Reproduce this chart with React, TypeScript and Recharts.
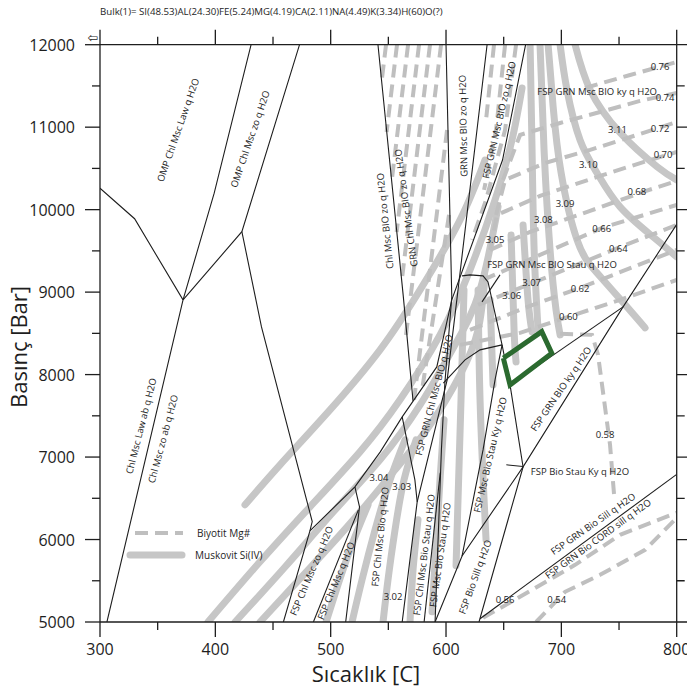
import React from "react";
import { ComposedChart, Line, Scatter, XAxis, YAxis, Label } from "recharts";

document.body.style.margin = "0";

const xTicks = [300, 350, 400, 450, 500, 550, 600, 650, 700, 750, 800];
const yTicks = [5000, 5500, 6000, 6500, 7000, 7500, 8000, 8500, 9000, 9500, 10000, 10500, 11000, 11500, 12000];

const bulk = "Bulk(1)= SI(48.53)AL(24.30)FE(5.24)MG(4.19)CA(2.11)NA(4.49)K(3.34)H(60)O(?)";

// phase boundaries, [T °C, P bar]
const L1 = [[300, 10260], [330, 9890], [372, 8905], [306, 5000]];
const L2 = [[372, 8905], [399, 10200], [431, 12000]];
const L3 = [[372, 8905], [423, 9733], [473, 12000]];
const L4 = [[423, 9733], [440, 8578], [484, 6218], [482, 6105], [459, 5000]];
const L5 = [[482, 6105], [521, 6639], [543, 7063], [562, 7487], [592, 8093], [605, 8906], [649, 10602], [669, 12000]];
const Ld = [[521, 6639], [525, 6396], [513, 5000]];
const Le = [[524, 6360], [485, 5000]];
const L6 = [[541, 12000], [563, 8942], [571.4, 7680]];
const Lf = [[562, 7487], [573, 6724], [575, 6458], [562, 5000]];
const L7 = [[600, 12000], [605, 8942], [599, 7899], [596, 7087], [590.5, 5000]];
const Lk = [[595, 6810], [581, 5000]];
const L8 = [[635.6, 12000], [610.4, 9027], [601, 7936], [575, 6458]];
const Lj = [[597.7, 7896], [616.5, 8178], [629.5, 8300], [648.6, 8360]];
const LM = [[613.9, 9197], [620.8, 9209], [632.1, 9197], [636.4, 9124], [648.6, 8360], [655.5, 7875], [666.8, 6881], [628.6, 5000]];
const LN = [[648.6, 8360], [642.5, 7936], [632.1, 7087], [613.9, 5800]];
const LO = [[590.5, 5000], [613.9, 5800], [666.8, 6881], [753.5, 8821], [800, 9821]];
const LQ = [[655.5, 7875], [753.5, 8821]];
const LR = [[629.5, 5040], [800, 6790]];
const ptr1 = [[646.8, 9209], [631.2, 8882]];
const ptr2 = [[652.3, 6906], [666.7, 6885]];

const boundaries = [L1, L2, L3, L4, L5, Ld, Le, L6, Lf, L7, Lk, L8, Lj, LM, LN, LO, LQ, LR, ptr1, ptr2];

// study area
const box = [[649.7, 8199], [683.0, 8521], [691.7, 8259], [655.5, 7875], [649.7, 8199]];

// Muskovit Si(IV) isopleths
const si0 = [[425.7, 6421], [456.1, 6906], [499.4, 7572], [542.8, 8300], [577.5, 9027], [612.2, 9876], [633.8, 10602]];
const si1 = [[393.6, 5000], [438.7, 5730], [482.1, 6397], [525.4, 7063], [560.1, 7694], [594.8, 8482], [620.8, 9270], [642.5, 10118], [657.2, 10845], [665.9, 11475]];
const si2 = [[417.1, 5000], [460.4, 5667], [503.8, 6358], [542.8, 6966], [577.5, 7632], [607.8, 8360], [629.5, 9027], [645.1, 10033]];
const si3 = [[438.7, 5000], [482.1, 5657], [521.1, 6263], [555.8, 6845], [586.1, 7390], [612.2, 7997], [627.8, 8542], [633.8, 9185]];
const si11 = [[711.9, 12000], [724.9, 11455], [750.9, 10933], [783.0, 10521], [800, 10360]];
const si10 = [[698.9, 12000], [704.9, 11451], [716.2, 10845], [730.9, 10445], [750.9, 10033], [779.5, 9670], [800, 9427]];
const si09 = [[688.5, 12000], [692.9, 11245], [699.8, 10445], [713.6, 9633], [730.9, 9233], [756.9, 8821], [772.6, 8566]];
const si08 = [[681.5, 12000], [685.0, 10724], [690.2, 9512], [695.4, 8784], [698.9, 8481]];
const si07 = [[672.9, 12000], [674.6, 10724], [676.4, 9512], [679.8, 8542]];
const v1 = [[656.4, 9694], [659.0, 8542], [660.7, 8154]];
const v2 = [[666.8, 9815], [671.1, 8906], [674.6, 8518]];
const v3 = [[638.2, 8906], [640.8, 7875]];
const v4 = [[627.8, 9027], [629.5, 7694], [633.0, 6482], [634.7, 5997]];
const v5 = [[615.6, 9027], [613.0, 7694], [610.4, 6482], [608.7, 5682]];
const v6 = [[598.3, 7451], [594.8, 6724], [587.9, 5124]];
const s1 = [[496.0, 5000], [506.4, 5455], [518.5, 5940], [532.4, 6421]];
const s2 = [[518.5, 5000], [527.2, 5512], [538.5, 6118], [551.5, 6724], [564.5, 7209]];
const s3 = [[545.4, 5000], [549.7, 5512], [555.8, 6118], [563.6, 6724], [574.0, 7209]];
const s4 = [[568.8, 5000], [571.4, 5630], [575.7, 6239]];

const siLines = [si0, si1, si2, si3, si11, si10, si09, si08, si07, v1, v2, v3, v4, v5, v6, s1, s2, s3, s4];

// Biyotit Mg# isopleths
const mg76 = [[720.5, 11475], [759.6, 11633], [800, 11790]];
const mg74 = [[649.4, 10360], [664.2, 10906], [698.9, 11051], [733.6, 11184], [768.2, 11318], [800, 11415]];
const mg72 = [[643.4, 9936], [651.2, 10360], [685.9, 10566], [724.9, 10724], [768.2, 10918], [800, 11063]];
const mg70 = [[638.2, 9512], [644.2, 9936], [681.5, 10166], [733.6, 10409], [776.9, 10602], [800, 10699]];
const mg68 = [[638.2, 9512], [672.9, 9730], [724.9, 9985], [770.8, 10215], [800, 10348]];
const mg66 = [[632.1, 9148], [681.5, 9451], [735.3, 9779], [800, 10057]];
const mg64 = [[627.8, 8845], [681.5, 9148], [749.2, 9536], [800, 9815]];
const mg62 = [[620.8, 8542], [672.9, 8833], [716.2, 9051], [800, 9512]];
const mg60 = [[612.2, 8360], [664.2, 8506], [705.8, 8700], [750.9, 8906], [800, 9148]];
const mg58 = [[698.9, 8494], [726.6, 8482], [731.8, 8239], [737.0, 7694], [742.2, 7149], [745.7, 6543]];
const mg56 = [[632.1, 5051], [670.2, 5354], [711.9, 5693], [750.9, 6057], [800, 6324]];
const mg54 = [[678.1, 5000], [703.2, 5366], [733.6, 5572], [772.6, 5875], [800, 6263]];
const a1 = [[548.0, 12000], [544.2, 11560]];
const a2 = [[557.5, 12000], [548.5, 10942]];
const a3 = [[567.1, 12000], [552.8, 10336]];
const a4 = [[576.6, 12000], [557.2, 9730]];
const a5 = [[586.1, 12000], [561.5, 9124]];
const a6 = [[595.7, 12000], [565.3, 8481]];
const a7 = [[600.9, 10966], [572.3, 7694]];
const a8 = [[602.6, 9936], [579.5, 7840]];
const b1 = [[641.6, 12000], [634.7, 11087]];
const b2 = [[651.2, 12000], [643.4, 10966], [633.0, 10239]];
const b3 = [[660.7, 12000], [651.2, 10966], [634.7, 10118], [622.6, 9633]];

const mgLines = [mg76, mg74, mg72, mg70, mg68, mg66, mg64, mg62, mg60, mg58, mg56, mg54, a1, a2, a3, a4, a5, a6, a7, a8, b1, b2, b3];

// assemblage labels: T, P, angle, text
const fieldLabels = [
  { t: 367.6, p: 10966, a: -70.6, text: "OMP Chl Msc Law q H2O" },
  { t: 430.1, p: 10857, a: -71, text: "OMP Chl Msc zo q H2O" },
  { t: 335.6, p: 7378, a: -75.7, text: "Chl Msc Law ab q H2O" },
  { t: 354.6, p: 7221, a: -75, text: "Chl Msc zo ab q H2O" },
  { t: 547.1, p: 9863, a: -96, text: "Chl Msc BIO zo q H2O" },
  { t: 565.3, p: 10021, a: -98, text: "GRN Chl Msc BIO zo q H2O" },
  { t: 614.8, p: 11015, a: -91, text: "GRN Msc BIO zo q H2O" },
  { t: 646.0, p: 11087, a: -77, text: "FSP GRN Msc BIO zo q H2O" },
  { t: 731.0, p: 11427, a: 0, text: "FSP GRN Msc BIO ky q H2O" },
  { t: 691.9, p: 9330, a: 0, text: "FSP GRN Msc BIO Stau q H2O" },
  { t: 589.6, p: 7754, a: -75.5, text: "FSP GRN Chl Msc BIO q H2O" },
  { t: 483.4, p: 5621, a: -67, text: "FSP Chl Msc zo q H2O" },
  { t: 504.6, p: 5500, a: -67.7, text: "FSP Chl Msc q H2O" },
  { t: 542.8, p: 6033, a: -84, text: "FSP Chl Msc Bio q H2O" },
  { t: 580.9, p: 5815, a: -83, text: "FSP Chl Msc Bio Stau q H2O" },
  { t: 594.8, p: 5815, a: -82, text: "FSP  Msc Bio Stau q H2O" },
  { t: 638.2, p: 7027, a: -77, text: "FSP  Msc Bio Stau Ky q H2O" },
  { t: 625.2, p: 5548, a: -70, text: "FSP Bio Sill q H2O" },
  { t: 699.7, p: 7827, a: -55.7, text: "FSP GRN BIO ky q H2O" },
  { t: 716.2, p: 6821, a: 0, text: "FSP Bio Stau Ky q H2O" },
  { t: 727.5, p: 6191, a: -34.8, text: "FSP GRN Bio Sill q H2O" },
  { t: 731.8, p: 6009, a: -36, text: "FSP GRN Bio CORD sill q H2O" },
];

const isoLabels = [
  { t: 554.1, p: 5306, a: 0, text: "3.02" },
  { t: 561.6, p: 6643, a: 0, text: "3.03" },
  { t: 541.9, p: 6752, a: 0, text: "3.04" },
  { t: 642.5, p: 9633, a: 0, text: "3.05" },
  { t: 657.0, p: 8954, a: 0, text: "3.06" },
  { t: 674.2, p: 9115, a: 0, text: "3.07" },
  { t: 684.4, p: 9875, a: 0, text: "3.08" },
  { t: 703.2, p: 10078, a: 0, text: "3.09" },
  { t: 723.4, p: 10550, a: 0, text: "3.10" },
  { t: 748.6, p: 10966, a: 0, text: "3.11" },
  { t: 785.6, p: 11733, a: 0, text: "0.76" },
  { t: 789.9, p: 11362, a: 0, text: "0.74" },
  { t: 785.6, p: 10987, a: 0, text: "0.72" },
  { t: 788.2, p: 10663, a: 0, text: "0.70" },
  { t: 765.4, p: 10218, a: 0, text: "0.68" },
  { t: 735.0, p: 9775, a: 0, text: "0.66" },
  { t: 749.4, p: 9532, a: 0, text: "0.64" },
  { t: 716.2, p: 9047, a: 0, text: "0.62" },
  { t: 706.1, p: 8703, a: 0, text: "0.60" },
  { t: 737.9, p: 7269, a: 0, text: "0.58" },
  { t: 651.2, p: 5269, a: 0, text: "0.56" },
  { t: 696.0, p: 5269, a: 0, text: "0.54" },
];

const FONT = "'Open Sans', 'Noto Sans', sans-serif";
const INK = "#1e1e1e";
const SI_GRAY = "#c6c6c6";
const MG_GRAY = "#bfbfbf";

// plot frame in page pixels, used only for the top/right frame ticks overlay
const FRAME = { left: 100, top: 44.7, width: 576.7, height: 577.3 };

const toPts = (a: number[][]) => a.map(([t, p]) => ({ t, p }));

const BottomTick = ({ x, y, payload }: any) => {
  const major = payload.value % 100 === 0;
  return (
    <g>
      <line x1={x} y1={y} x2={x} y2={y + (major ? 15 : 8)} stroke={INK} strokeWidth={1.3} />
      {major && (
        <text x={x} y={y + 33} textAnchor="middle" fontSize={16} fontFamily={FONT} fill={INK}>
          {payload.value}
        </text>
      )}
    </g>
  );
};

const LeftTick = ({ x, y, payload }: any) => {
  const major = payload.value % 1000 === 0;
  return (
    <g>
      <line x1={x} y1={y} x2={x - (major ? 15 : 8)} y2={y} stroke={INK} strokeWidth={1.3} />
      {major && (
        <text x={x - 25} y={y + 6} textAnchor="end" fontSize={16} fontFamily={FONT} fill={INK}>
          {payload.value}
        </text>
      )}
    </g>
  );
};

const renderLabel = (size: number) => (props: any) => {
  const { cx, cy, payload } = props;
  return (
    <text
      x={cx}
      y={cy}
      transform={`rotate(${payload.a} ${cx} ${cy})`}
      textAnchor="middle"
      dominantBaseline="central"
      fontSize={size}
      fontFamily={FONT}
      fill={INK}
    >
      {payload.text}
    </text>
  );
};

// title, corner icon, legend and the y-axis title
const Decor = () => (
  <g fontFamily={FONT} fill={INK}>
    <text x={100} y={15} fontSize={9.7}>{bulk}</text>
    <text x={93} y={42} fontSize={13} textAnchor="middle" fontFamily="'DejaVu Sans'">⇦</text>
    <line x1={135} y1={533} x2={183} y2={533} stroke={MG_GRAY} strokeWidth={4} strokeDasharray="13 7" />
    <text x={197} y={537} fontSize={10}>Biyotit Mg#</text>
    <line x1={130} y1={555} x2={182} y2={555} stroke={SI_GRAY} strokeWidth={7} strokeLinecap="round" />
    <text x={195} y={559} fontSize={10}>Muskovit Si(IV)</text>
    <text x={27} y={347} transform="rotate(-90 27 347)" textAnchor="middle" fontSize={22}>
      Basınç [Bar]
    </text>
  </g>
);

// outward ticks on the top and right edges of the frame
const FrameTicks = () => {
  const { left, top, width, height } = FRAME;
  const d: string[] = [];
  xTicks.forEach((t) => {
    const x = left + ((t - 300) / 500) * width;
    d.push(`M${x},${top}V${top - (t % 100 === 0 ? 15 : 8)}`);
  });
  yTicks.forEach((p) => {
    const y = top + ((12000 - p) / 7000) * height;
    d.push(`M${left + width},${y}H${left + width + (p % 1000 === 0 ? 15 : 8)}`);
  });
  return (
    <svg
      width={687}
      height={696}
      style={{ position: "absolute", left: 0, top: 0, pointerEvents: "none" }}
    >
      <path d={d.join("")} stroke={INK} strokeWidth={1.3} fill="none" />
    </svg>
  );
};

export default function App() {
  return (
    <div style={{ position: "relative", width: 687, height: 696 }}>
      <ComposedChart width={687} height={696} margin={{ top: 43.7, right: 9.3, bottom: 0, left: 0 }}>
        <XAxis
          type="number"
          dataKey="t"
          domain={[300, 800]}
          ticks={xTicks}
          allowDataOverflow
          height={74}
          tickSize={0}
          tickMargin={0}
          tick={<BottomTick />}
          tickLine={false}
          axisLine={{ stroke: INK, strokeWidth: 1.3 }}
          interval={0}
        >
          <Label
            content={() => (
              <text x={366} y={682} textAnchor="middle" fontSize={22} fontFamily={FONT} fill={INK}>
                Sıcaklık [C]
              </text>
            )}
          />
        </XAxis>
        <XAxis
          xAxisId="top"
          orientation="top"
          type="number"
          dataKey="t"
          domain={[300, 800]}
          allowDataOverflow
          height={1}
          tick={false}
          tickLine={false}
          axisLine={{ stroke: INK, strokeWidth: 1.3 }}
        />
        <YAxis
          type="number"
          dataKey="p"
          domain={[5000, 12000]}
          ticks={yTicks}
          allowDataOverflow
          width={100}
          tickSize={0}
          tickMargin={0}
          tick={<LeftTick />}
          tickLine={false}
          axisLine={{ stroke: INK, strokeWidth: 1.3 }}
          interval={0}
        >
          <Label content={() => <Decor />} />
        </YAxis>
        <YAxis
          yAxisId="right"
          orientation="right"
          type="number"
          dataKey="p"
          domain={[5000, 12000]}
          allowDataOverflow
          width={1}
          tick={false}
          tickLine={false}
          axisLine={{ stroke: INK, strokeWidth: 1.3 }}
        />

        {/* ties the top and right frame axes to a series so they are drawn */}
        <Line
          xAxisId="top"
          yAxisId="right"
          data={toPts(L1)}
          dataKey="p"
          stroke="none"
          dot={false}
          activeDot={false}
          isAnimationActive={false}
        />

        {siLines.map((d, i) => (
          <Line
            key={`si${i}`}
            data={toPts(d)}
            dataKey="p"
            type="natural"
            stroke={SI_GRAY}
            strokeWidth={7}
            strokeLinecap="round"
            strokeLinejoin="round"
            dot={false}
            activeDot={false}
            isAnimationActive={false}
          />
        ))}
        {mgLines.map((d, i) => (
          <Line
            key={`mg${i}`}
            data={toPts(d)}
            dataKey="p"
            type="linear"
            stroke={MG_GRAY}
            strokeWidth={4}
            strokeDasharray="13 7"
            dot={false}
            activeDot={false}
            isAnimationActive={false}
          />
        ))}
        {boundaries.map((d, i) => (
          <Line
            key={`b${i}`}
            data={toPts(d)}
            dataKey="p"
            type="linear"
            stroke={INK}
            strokeWidth={1.1}
            dot={false}
            activeDot={false}
            isAnimationActive={false}
          />
        ))}
        <Line
          data={toPts(box)}
          dataKey="p"
          type="linear"
          stroke="#2b6a2f"
          strokeWidth={5}
          strokeLinejoin="miter"
          dot={false}
          activeDot={false}
          isAnimationActive={false}
        />
        <Scatter data={fieldLabels} dataKey="p" shape={renderLabel(9.5)} isAnimationActive={false} />
        <Scatter data={isoLabels} dataKey="p" shape={renderLabel(9.5)} isAnimationActive={false} />
      </ComposedChart>
      <FrameTicks />
    </div>
  );
}
